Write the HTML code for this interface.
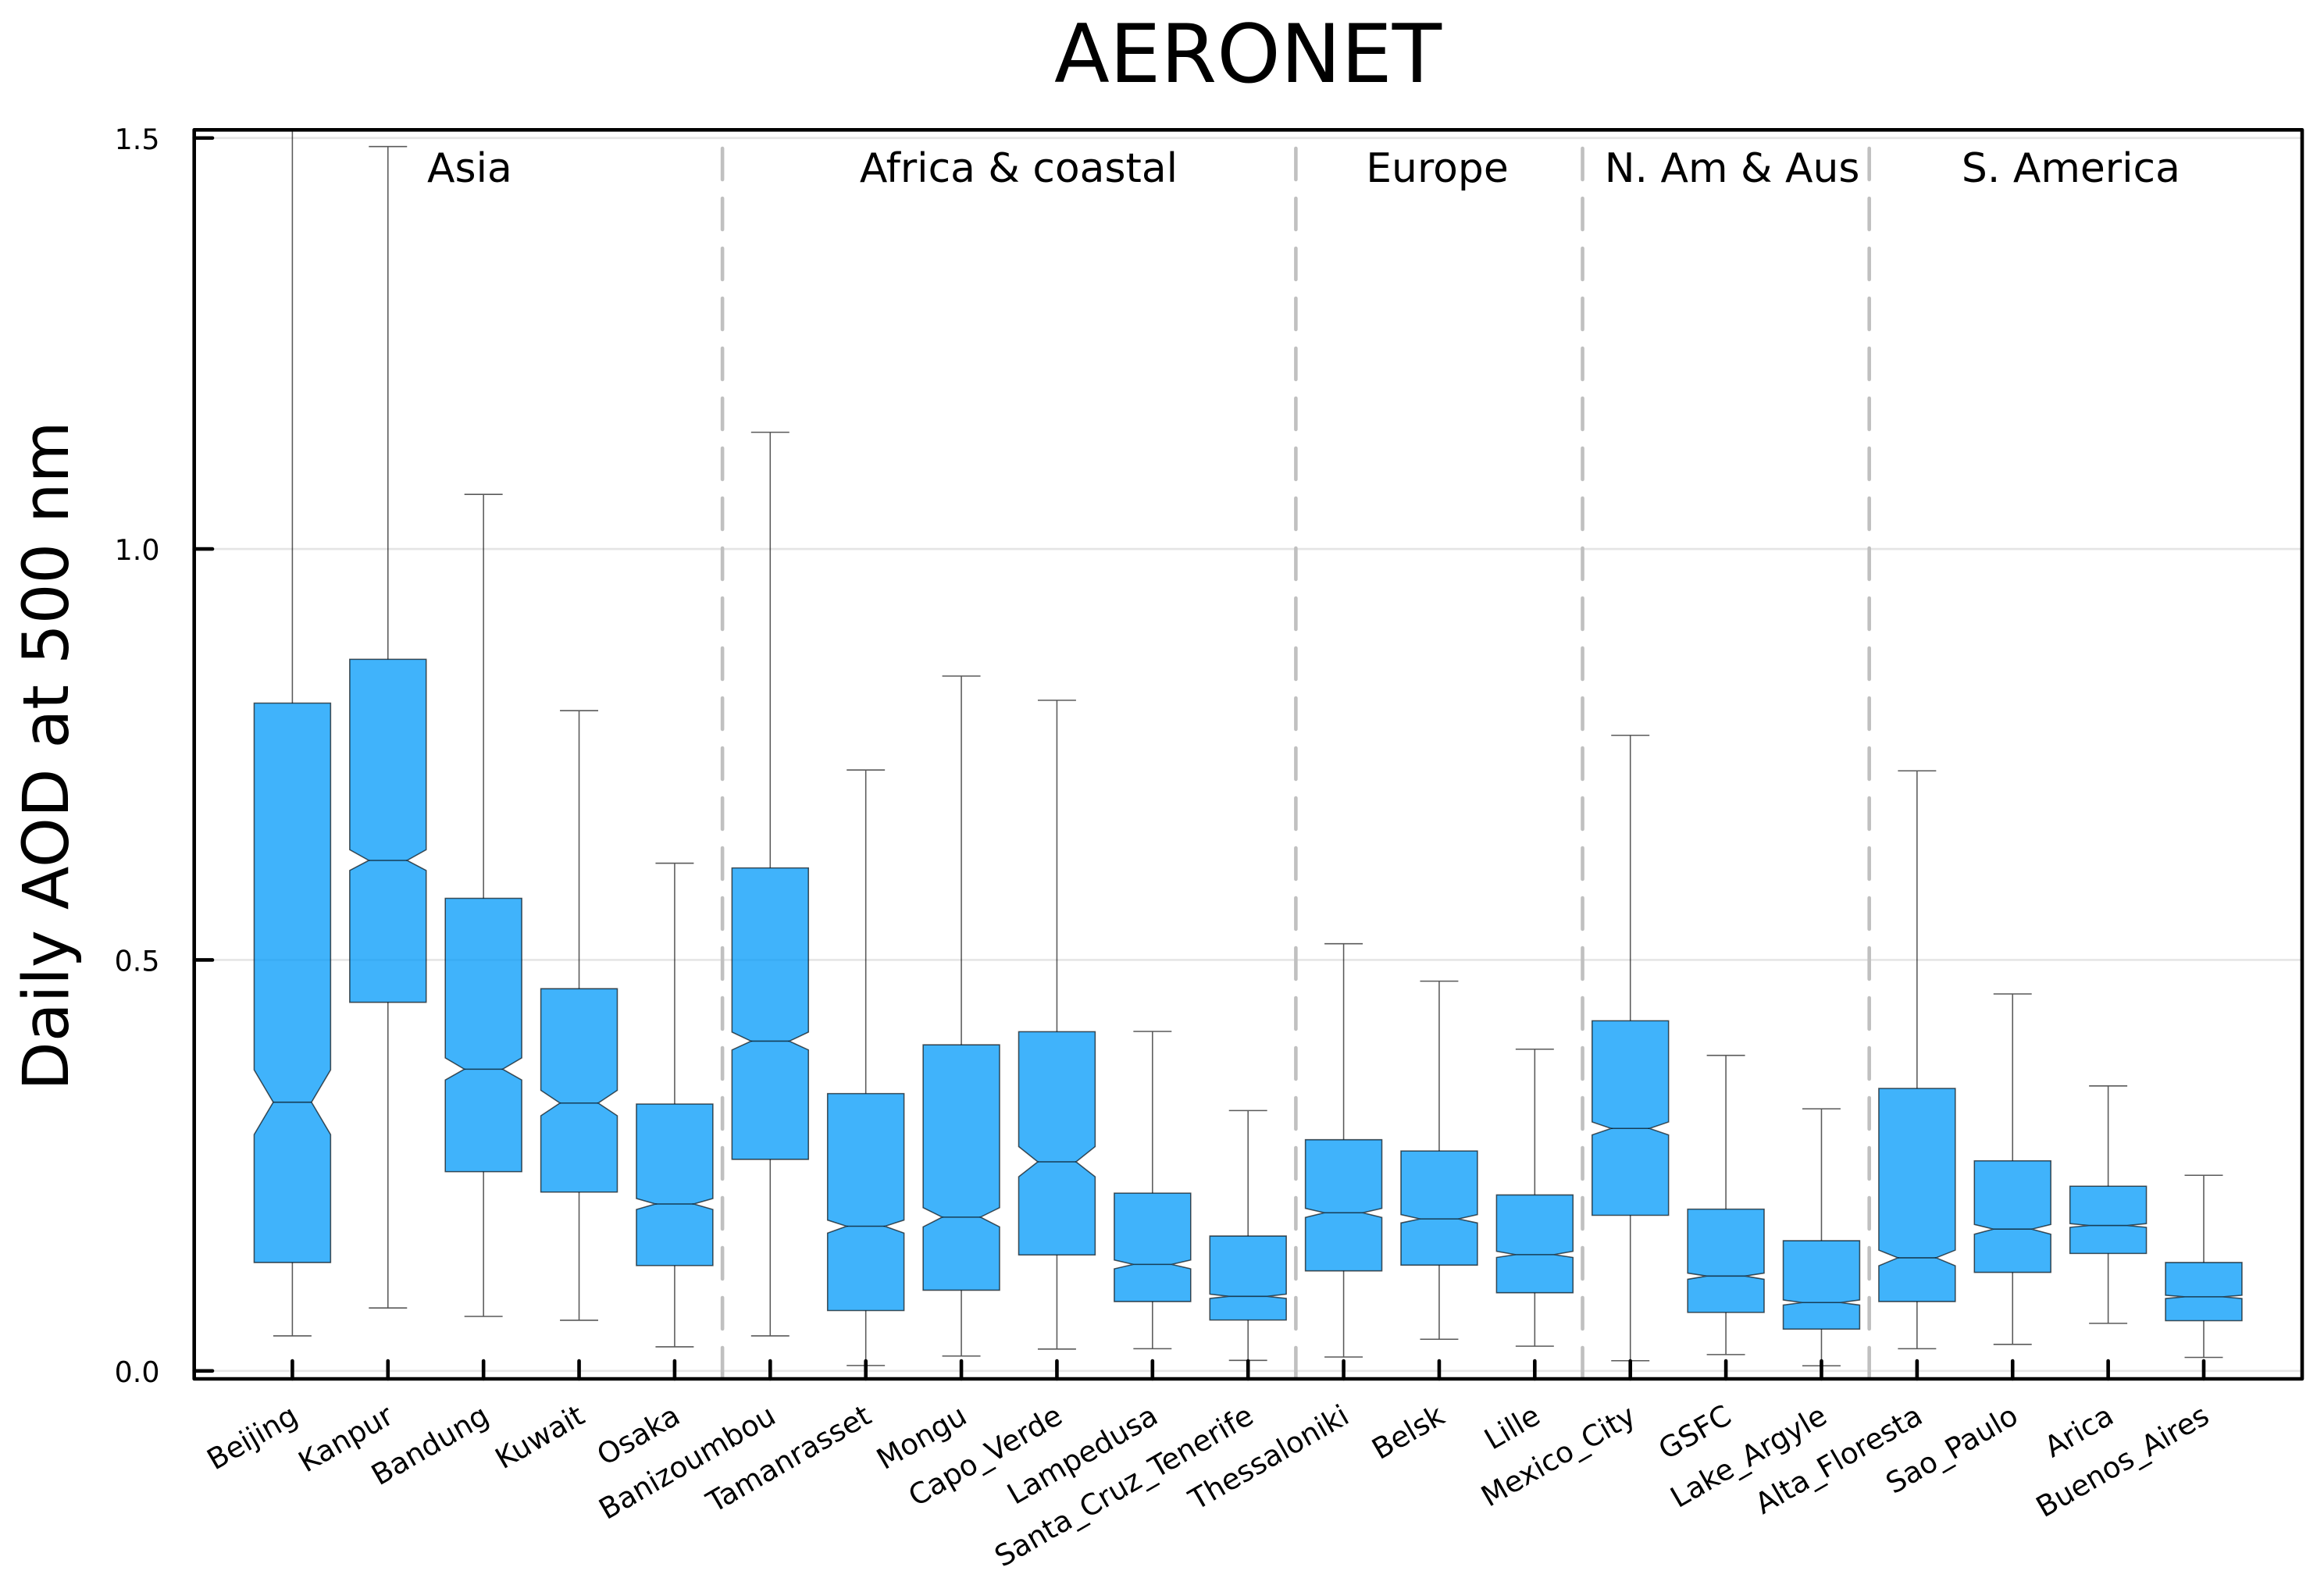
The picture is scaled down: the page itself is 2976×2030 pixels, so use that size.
<!DOCTYPE html>
<html lang="en">
<head>
<meta charset="utf-8">
<title>AERONET</title>
<style>
html,body{margin:0;padding:0;background:#fff;}
svg{display:block;}
text{font-family:"DejaVu Sans","Liberation Sans",sans-serif;fill:#000;}
</style>
</head>
<body>
<svg id="chart" xmlns="http://www.w3.org/2000/svg" width="2976" height="2030" viewBox="0 0 2976 2030">
  <defs><clipPath id="plot-clip"><rect x="248.7" y="166.3" width="2699.3" height="1599.7"/></clipPath></defs>
  <rect x="0" y="0" width="2976" height="2030" fill="#fff"/>
  <text x="1598" y="105" font-size="103.6" text-anchor="middle">AERONET</text>
  <text transform="translate(87 968) rotate(-90)" font-size="81.3" text-anchor="middle">Daily AOD at 500 nm</text>
  <g id="grid"></g>
  <g id="dividers" clip-path="url(#plot-clip)"></g>
  <g id="boxes" clip-path="url(#plot-clip)"></g>
  <g id="regions"></g>
  <g id="yticks"></g>
  <g id="xticks"></g>
  <rect x="248.7" y="166.3" width="2699.3" height="1599.7" fill="none" stroke="#000" stroke-width="4.6" stroke-linejoin="round"/>
</svg>
<script>
const stations = ["Beijing","Kanpur","Bandung","Kuwait","Osaka","Banizoumbou","Tamanrasset","Mongu","Capo_Verde","Lampedusa","Santa_Cruz_Tenerife","Thessaloniki","Belsk","Lille","Mexico_City","GSFC","Lake_Argyle","Alta_Floresta","Sao_Paulo","Arica","Buenos_Aires"];
const whiskerHigh = [1.6,1.4896,1.0664,0.8033,0.6177,1.142,0.7311,0.8454,0.8159,0.413,0.3167,0.5197,0.4742,0.3914,0.7733,0.3839,0.3189,0.7301,0.4586,0.3467,0.238];
const q3 = [0.8125,0.8658,0.575,0.465,0.3247,0.6119,0.3374,0.3967,0.4127,0.2163,0.1641,0.2813,0.2676,0.2141,0.426,0.1968,0.1584,0.3437,0.2556,0.2247,0.1319];
const notchHigh = [0.3662,0.6341,0.3808,0.3414,0.2097,0.4122,0.1835,0.1986,0.2729,0.1349,0.0934,0.1977,0.1902,0.1455,0.3029,0.119,0.0863,0.1469,0.1782,0.1792,0.092];
const median = [0.3269,0.6211,0.3671,0.3259,0.2031,0.4012,0.176,0.1871,0.2544,0.1296,0.0907,0.1924,0.1849,0.1415,0.295,0.1154,0.0832,0.1376,0.1725,0.1769,0.0902];
const notchLow = [0.2876,0.6089,0.3539,0.3104,0.1964,0.3905,0.1677,0.1752,0.2362,0.1242,0.0882,0.1867,0.18,0.138,0.2871,0.1115,0.0801,0.1279,0.1663,0.1747,0.0881];
const q1 = [0.1319,0.4485,0.2424,0.2176,0.1282,0.2574,0.0734,0.0982,0.1411,0.0844,0.0619,0.1217,0.1287,0.0951,0.1893,0.0712,0.0509,0.0844,0.1199,0.1429,0.0611];
const whiskerLow = [0.0426,0.0766,0.0663,0.0616,0.0293,0.0426,0.0066,0.0181,0.0266,0.027,0.0128,0.0169,0.0385,0.0301,0.0124,0.0199,0.0062,0.027,0.0323,0.0579,0.0164];
const yTickValues = [0,0.5,1,1.5];
const yTickLabels = ["0.0","0.5","1.0","1.5"];
const regionNames = ["Asia","Africa & coastal","Europe","N. Am & Aus","S. America"];
const regionCenters = [1.855,7.6,11.98,15.065,18.61];
const regionBreaks = [4.5,10.5,13.5,16.5];

const NS = "http://www.w3.org/2000/svg";
const xScale = function (i) { return 374.4 + i * 122.38; };
const yScale = function (v) { return 1755.8 - v * 1052.7; };
const BOX_HALF = 0.4 * 122.38;
const PLOT_LEFT = 248.7, PLOT_BOTTOM = 1766;

function make(tag, attrs, parent) {
  const el = document.createElementNS(NS, tag);
  for (const k in attrs) el.setAttribute(k, attrs[k]);
  parent.appendChild(el);
  return el;
}
function slug(s) { return s.toLowerCase().replace(/[^a-z0-9]+/g, "-"); }

const gridG = document.getElementById("grid");
const yticksG = document.getElementById("yticks");
yTickValues.forEach(function (v, i) {
  const y = yScale(v);
  const g = make("line", {x1: PLOT_LEFT, x2: 2948, y1: y, y2: y, stroke: "#000", "stroke-opacity": 0.1, "stroke-width": 2.7}, gridG);
  
  
  const t = make("line", {x1: PLOT_LEFT, x2: 272, y1: y, y2: y, stroke: "#000", "stroke-width": 4.6, "stroke-linecap": "round"}, yticksG);
  
  
  const l = make("text", {x: 204.5, y: y + 14, "font-size": 36.4, "text-anchor": "end"}, yticksG);
  l.textContent = yTickLabels[i];
  
  
});

const dividersG = document.getElementById("dividers");
regionBreaks.forEach(function (b) {
  const x = xScale(b);
  const d = make("line", {x1: x, x2: x, y1: 126, y2: 1800, stroke: "#c0c0c0", "stroke-width": 4.6, "stroke-linecap": "round", "stroke-dasharray": "40 24"}, dividersG);
  
  
});

const boxesG = document.getElementById("boxes");
const xticksG = document.getElementById("xticks");
stations.forEach(function (name, i) {
  const x = xScale(i);
  const hw = BOX_HALF, nw = BOX_HALF / 2;
  const group = make("g", {}, boxesG);
  
  
  const wStyle = {stroke: "#000", "stroke-opacity": 0.65, "stroke-width": 1.55, fill: "none"};
  const wTop = make("path", Object.assign({d: "M" + (x - nw) + " " + yScale(whiskerHigh[i]) + "H" + (x + nw) + "M" + x + " " + yScale(whiskerHigh[i]) + "V" + yScale(q3[i])}, wStyle), group);
  
  
  const wBot = make("path", Object.assign({d: "M" + (x - nw) + " " + yScale(whiskerLow[i]) + "H" + (x + nw) + "M" + x + " " + yScale(whiskerLow[i]) + "V" + yScale(q1[i])}, wStyle), group);
  
  
  const pts = [
    [x - hw, yScale(q1[i])], [x + hw, yScale(q1[i])], [x + hw, yScale(notchLow[i])],
    [x + nw, yScale(median[i])], [x + hw, yScale(notchHigh[i])], [x + hw, yScale(q3[i])],
    [x - hw, yScale(q3[i])], [x - hw, yScale(notchHigh[i])], [x - nw, yScale(median[i])],
    [x - hw, yScale(notchLow[i])]
  ];
  const box = make("polygon", {points: pts.map(function (p) { return p.join(","); }).join(" "), fill: "rgb(0,154,250)", "fill-opacity": 0.75, stroke: "#000", "stroke-opacity": 0.65, "stroke-width": 1.55}, group);
  
  
  const med = make("line", {x1: x - nw, x2: x + nw, y1: yScale(median[i]), y2: yScale(median[i]), stroke: "#000", "stroke-opacity": 0.65, "stroke-width": 1.55}, group);
  
  

  const tick = make("line", {x1: x, x2: x, y1: PLOT_BOTTOM, y2: 1743, stroke: "#000", "stroke-width": 4.6, "stroke-linecap": "round"}, xticksG);
  
  
  const px = x + 9.5, py = 1820.5;
  const label = make("text", {transform: "translate(" + px + " " + py + ") rotate(-30)", "font-size": 37, "text-anchor": "end"}, xticksG);
  label.textContent = name;
  
  
});

const regionsG = document.getElementById("regions");
regionNames.forEach(function (name, i) {
  const t = make("text", {x: xScale(regionCenters[i]), y: 233, "font-size": 51.9, "text-anchor": "middle"}, regionsG);
  t.textContent = name;
  
  
});
</script>
</body>
</html>
